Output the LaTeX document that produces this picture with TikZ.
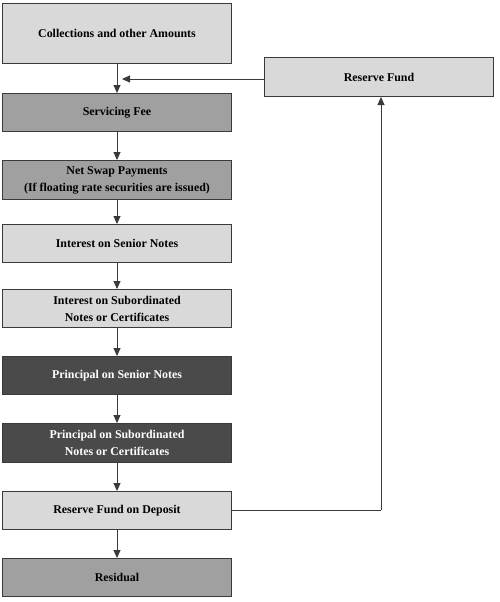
\documentclass[tikz,border=0pt]{standalone}
\usepackage{fontspec}
\setmainfont{Liberation Serif}
\usetikzlibrary{arrows.meta}
\definecolor{lightbox}{HTML}{D9D9D9}
\definecolor{midbox}{HTML}{A0A0A0}
\definecolor{darkbox}{HTML}{4A4A4A}
\definecolor{edgecol}{HTML}{3A3A3A}
\begin{document}
\begin{tikzpicture}[x=1pt,y=-1pt,
  box/.style={draw=edgecol,line width=1pt,minimum width=229pt,inner sep=0pt,
    font=\fontsize{11.9}{17}\selectfont\bfseries,align=center,anchor=north west},
  lightb/.style={box,fill=lightbox},
  midb/.style={box,fill=midbox},
  darkb/.style={box,fill=darkbox,text=white},
  flow/.style={draw=edgecol,line width=0.9pt,-{Triangle[length=8pt,width=7pt]}},
  plain/.style={draw=edgecol,line width=0.9pt}]
\useasboundingbox (0,0) rectangle (500,602);
\node[lightb,minimum height=60pt] (c) at (2,3) {Collections and other Amounts};
\node[midb,minimum height=38pt] (s) at (2,93) {Servicing Fee};
\node[midb,minimum height=39pt] (n) at (2,160) {Net Swap Payments\\(If floating rate securities are issued)};
\node[lightb,minimum height=38pt] (is) at (2,224) {Interest on Senior Notes};
\node[lightb,minimum height=38pt] (isub) at (2,289) {Interest on Subordinated\\Notes or Certificates};
\node[darkb,minimum height=38pt] (ps) at (2,356) {Principal on Senior Notes};
\node[darkb,minimum height=39pt] (psub) at (2,423) {Principal on Subordinated\\Notes or Certificates};
\node[lightb,minimum height=38pt] (rd) at (2,491) {Reserve Fund on Deposit};
\node[midb,minimum height=38pt] (r) at (2,558) {Residual};
\node[lightb,minimum height=39pt] (rf) at (264,57) {Reserve Fund};
\draw[flow] (c) -- (s);
\draw[flow] (s) -- (n);
\draw[flow] (n) -- (is);
\draw[flow] (is) -- (isub);
\draw[flow] (isub) -- (ps);
\draw[flow] (ps) -- (psub);
\draw[flow] (psub) -- (rd);
\draw[flow] (rd) -- (r);
\coordinate (corner) at (381,510);
\draw[plain] (rd.east |- corner) -- (corner);
\draw[flow] (corner) -- (corner |- rf.south);
\coordinate (tip) at (122,79);
\draw[flow] (rf.west |- tip) -- (tip);
\end{tikzpicture}
\end{document}
